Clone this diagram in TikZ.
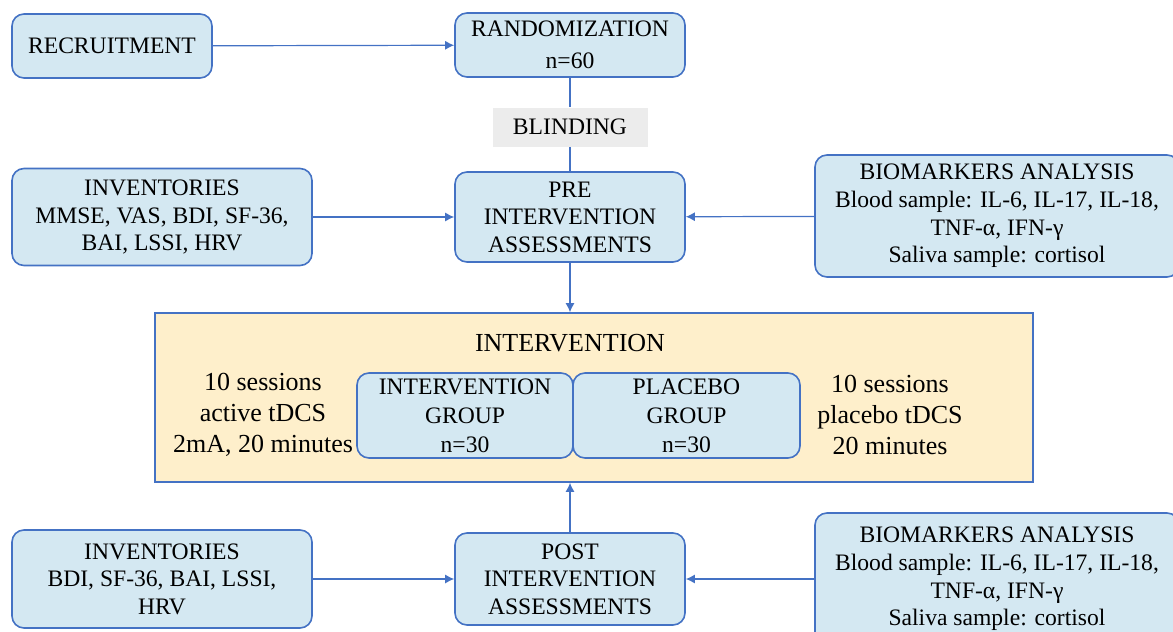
\documentclass[tikz,border=0pt]{standalone}
\usepackage{fontspec}
\setmainfont{Liberation Serif}
\usepackage{tikz}
\usetikzlibrary{arrows.meta}

\definecolor{boxblue}{RGB}{212,232,242}
\definecolor{lineblue}{RGB}{68,114,196}
\definecolor{boxorange}{RGB}{254,239,203}
\definecolor{boxgray}{RGB}{236,236,236}

\begin{document}
\begin{tikzpicture}[x=0.5pt,y=-0.5pt,
	box/.style={draw=lineblue,line width=0.8pt,fill=boxblue,rounded corners=6pt,
		align=center,inner sep=2pt,font=\fontsize{11.8}{13.8}\selectfont},
	grp/.style={box,font=\fontsize{11.8}{14.5}\selectfont},
	side/.style={align=center,font=\fontsize{13}{15.5}\selectfont},
	arr/.style={draw=lineblue,line width=0.6pt,-{Latex[length=4.5pt,width=4.5pt]}}]
	\useasboundingbox (0,0) rectangle (1173,632);
	\clip (0,0) rectangle (1173,632);
	% top row
	\node[box,minimum width=100pt,minimum height=32pt] (recr) at (112,46) {RECRUITMENT};
	\node[box,minimum width=115pt,minimum height=32pt,
		font=\fontsize{11.8}{16}\selectfont] (rand) at (570,45) {RANDOMIZATION\\n=60};
	\node[fill=boxgray,minimum width=77.5pt,minimum height=19.5pt,
		font=\fontsize{11.8}{13.8}\selectfont] (blind) at (570,127) {BLINDING};
	% pre assessments
	\node[box,minimum width=150pt,minimum height=48.5pt] (invpre) at (162,217)
		{INVENTORIES\\MMSE, VAS, BDI, SF-36,\\BAI, LSSI, HRV};
	\node[box,minimum width=115pt,minimum height=45pt] (pre) at (570,217)
		{PRE\\INTERVENTION\\ASSESSMENTS};
	\node[box,minimum width=182pt,minimum height=61pt] (biopre) at (997,216)
		{BIOMARKERS ANALYSIS\\Blood sample: IL-6, IL-17, IL-18,\\TNF-α, IFN-γ\\Saliva sample: cortisol};
	% intervention
	\node[draw=lineblue,line width=0.8pt,fill=boxorange,minimum width=439pt,
		minimum height=84.5pt] (interv) at (594,397.5) {};
	\node[side] (title) at (570,343) {INTERVENTION};
	\node[grp,minimum width=108pt,minimum height=42.5pt] (grpa) at (465,415.5)
		{INTERVENTION\\GROUP\\n=30};
	\node[grp,minimum width=113.5pt,minimum height=42.5pt] (grpb) at (686.5,415.5)
		{PLACEBO\\GROUP\\n=30};
	\node[side] (acttxt) at (263,415) {10 sessions\\active tDCS\\2mA, 20 minutes};
	\node[side] (plctxt) at (890,415) {10 sessions\\placebo tDCS\\20 minutes};
	% post assessments
	\node[box,minimum width=150pt,minimum height=49pt] (invpost) at (162,579)
		{INVENTORIES\\BDI, SF-36, BAI, LSSI,\\HRV};
	\node[box,minimum width=115pt,minimum height=46pt] (post) at (570,579)
		{POST\\INTERVENTION\\ASSESSMENTS};
	\node[box,minimum width=182pt,minimum height=66pt] (biopost) at (997,579)
		{BIOMARKERS ANALYSIS\\Blood sample: IL-6, IL-17, IL-18,\\TNF-α, IFN-γ\\Saliva sample: cortisol};
	% connectors
	\draw[arr] (recr) -- (rand);
	\draw[draw=lineblue,line width=0.6pt] (rand) -- (blind) (blind) -- (pre);
	\draw[arr] (invpre) -- (pre);
	\draw[arr] (biopre) -- (pre);
	\draw[arr] (pre.south) -- (pre.south |- interv.north);
	\draw[arr] (post.north) -- (post.north |- interv.south);
	\draw[arr] (invpost) -- (post);
	\draw[arr] (biopost) -- (post);
\end{tikzpicture}
\end{document}
